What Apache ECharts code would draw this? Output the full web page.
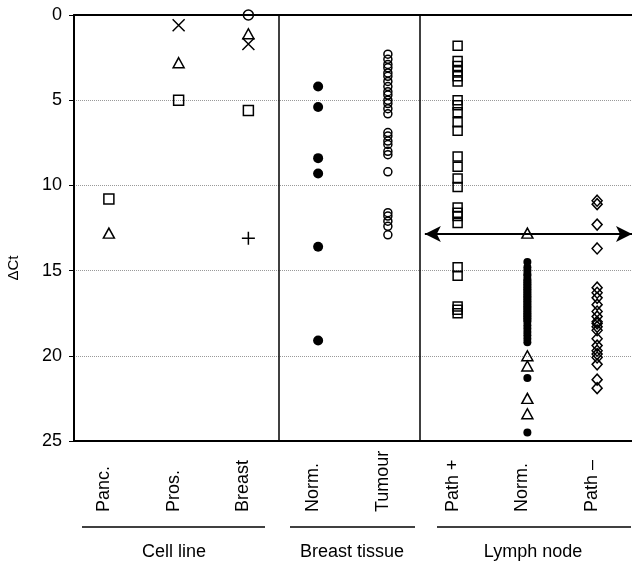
<!DOCTYPE html>
<html>
<head>
<meta charset="utf-8">
<script src="https://cdn.jsdelivr.net/npm/echarts@6/dist/echarts.min.js"></script>
<style>
  html, body { margin: 0; padding: 0; background: #fff; }
  #chart { width: 632px; height: 564px; }
</style>
</head>
<body>
<div id="chart"></div>
<script>
// categories along the bottom, and the three groups under them
const categories = ['Panc.', 'Pros.', 'Breast', 'Norm.', 'Tumour', 'Path +', 'Norm.', 'Path –'];
const groups = ['Cell line', 'Breast tissue', 'Lymph node'];
const yTicks = [0, 5, 10, 15, 20, 25];

// cell lines: [category index, ΔCt]
const cellSquares = [[0, 10.8], [1, 5.0], [2, 5.6]];
const cellTriangles = [[0, 12.8], [1, 2.8], [2, 1.1]];
const cellCrosses = [[1, 0.6], [2, 1.7]];
const cellPlus = [[2, 13.1]];
const cellCircles = [[2, 0.0]];

// breast tissue
const tissueNormal = [4.2, 5.4, 8.4, 9.3, 13.6, 19.1];
const tissueTumour = [2.3, 2.6, 2.9, 3.1, 3.4, 3.6, 3.9, 4.2, 4.5, 4.7, 5.0, 5.2, 5.5, 5.8,
  6.9, 7.1, 7.4, 7.6, 8.0, 8.2, 9.2, 11.6, 11.8, 12.1, 12.4, 12.9];

// lymph node
const nodePathPos = [1.8, 2.7, 3.0, 3.3, 3.6, 3.9, 5.0, 5.3, 5.7, 6.3, 6.8, 8.3, 8.9, 9.6, 10.1,
  11.3, 11.6, 11.8, 12.2, 14.8, 15.3, 17.1, 17.3, 17.5];
const nodeNormalDots = [14.5, 14.8, 15.0, 15.2, 15.3, 15.5, 15.6, 15.7, 15.8, 15.9, 16.0, 16.1,
  16.2, 16.3, 16.4, 16.5, 16.6, 16.7, 16.8, 16.9, 17.0, 17.1, 17.2, 17.3, 17.4, 17.5, 17.6,
  17.7, 17.8, 17.9, 18.0, 18.2, 18.4, 18.6, 18.8, 19.0, 19.2, 21.3, 24.5];
const nodeNormalTriangles = [12.8, 20.0, 20.6, 22.5, 23.4];
const nodePathNeg = [10.9, 11.1, 12.3, 13.7, 16.0, 16.3, 16.6, 17.0, 17.4, 17.7, 18.0, 18.1,
  18.3, 18.5, 19.0, 19.4, 19.7, 19.9, 20.1, 20.5, 21.4, 21.9];

const cutoff = 12.85;
const separators = [2.44, 4.46];

const font = 'Liberation Sans, Arial, sans-serif';
const col = (i, arr) => arr.map(v => [i, v]);

const open = { color: 'rgba(0,0,0,0)', borderColor: '#000', borderWidth: 1.5, opacity: 1 };
const solid = { color: '#000', opacity: 1 };
const crossPath = 'path://M0,0L10,10M10,0L0,10';
const plusPath = 'path://M5,0L5,10M0,5L10,5';

function scatter(data, symbol, size, itemStyle, extra) {
  return Object.assign({
    type: 'scatter', xAxisIndex: 1, yAxisIndex: 0,
    data: data, symbol: symbol, symbolSize: size, itemStyle: itemStyle,
    silent: true
  }, extra || {});
}

const chart = echarts.init(document.getElementById('chart'));

chart.setOption({
  animation: false,
  grid: { left: 74, top: 15, width: 561, height: 426 },
  xAxis: [
    {
      type: 'category', data: categories, position: 'bottom',
      axisLine: { onZero: false, lineStyle: { color: '#000', width: 2 } },
      axisTick: { show: false },
      axisLabel: {
        rotate: 90, margin: 7, color: '#000', fontFamily: font, fontSize: 18,
        padding: [0, 0, 10, 0],
        formatter: v => '{a|' + v + '}',
        rich: { a: { width: 64, align: 'left', fontFamily: font, fontSize: 18, color: '#000' } }
      },
      splitLine: { show: false }
    },
    {
      type: 'value', min: -0.5, max: 7.5, position: 'top',
      axisLine: { show: true, onZero: false, lineStyle: { color: '#000', width: 2 } },
      axisTick: { show: false }, axisLabel: { show: false }, splitLine: { show: false }
    }
  ],
  yAxis: {
    type: 'value', inverse: true, min: 0, max: 25, interval: 5,
    axisLine: { show: true, onZero: false, lineStyle: { color: '#000', width: 2 } },
    axisTick: { show: true, length: 5, lineStyle: { color: '#000' } },
    axisLabel: {
      margin: 12, color: '#000', fontFamily: font, fontSize: 18,
      formatter: v => yTicks.indexOf(v) >= 0 ? String(v) : ''
    },
    splitLine: { lineStyle: { color: '#999', type: 'dotted', width: 1 } }
  },
  series: [
    scatter(cellSquares, 'rect', 10, open, {
      markLine: {
        silent: true, symbol: ['none', 'none'], label: { show: false },
        lineStyle: { color: '#000', width: 1.5, type: 'solid' },
        data: separators.map(x => ({ xAxis: x }))
      }
    }),
    scatter(cellTriangles, 'triangle', [11, 10], open),
    scatter(cellCrosses, crossPath, 12, open),
    scatter(cellPlus, plusPath, 13, open),
    scatter(cellCircles, 'circle', 10, open),
    scatter(col(3, tissueNormal), 'circle', 10, solid),
    scatter(col(4, tissueTumour), 'circle', 8, open),
    scatter(col(5, nodePathPos), 'rect', 9, open, {
      markLine: {
        silent: true, symbol: ['arrow', 'arrow'], symbolSize: [12, 16], label: { show: false },
        lineStyle: { color: '#000', width: 2, type: 'solid', opacity: 1 },
        data: [[{ coord: [separators[1] + 0.07, cutoff] }, { coord: [7.5, cutoff] }]]
      }
    }),
    scatter(col(6, nodeNormalDots), 'circle', 8, solid),
    scatter(col(6, nodeNormalTriangles), 'triangle', [11, 10], open),
    scatter(col(7, nodePathNeg), 'diamond', [10, 11], open)
  ],
  graphic: [
    { type: 'text', x: 14, y: 268, rotation: Math.PI / 2,
      style: { text: 'ΔCt', font: '15px ' + font, fill: '#000', align: 'center', verticalAlign: 'middle' } },
    { type: 'line', shape: { x1: 82, y1: 527, x2: 265, y2: 527 }, style: { stroke: '#000', lineWidth: 1.5 } },
    { type: 'line', shape: { x1: 290, y1: 527, x2: 415, y2: 527 }, style: { stroke: '#000', lineWidth: 1.5 } },
    { type: 'line', shape: { x1: 437, y1: 527, x2: 631, y2: 527 }, style: { stroke: '#000', lineWidth: 1.5 } },
    { type: 'text', x: 174, y: 552, style: { text: groups[0], font: '18px ' + font, fill: '#000', align: 'center', verticalAlign: 'middle' } },
    { type: 'text', x: 352, y: 552, style: { text: groups[1], font: '18px ' + font, fill: '#000', align: 'center', verticalAlign: 'middle' } },
    { type: 'text', x: 533, y: 552, style: { text: groups[2], font: '18px ' + font, fill: '#000', align: 'center', verticalAlign: 'middle' } }
  ]
});
</script>
</body>
</html>
